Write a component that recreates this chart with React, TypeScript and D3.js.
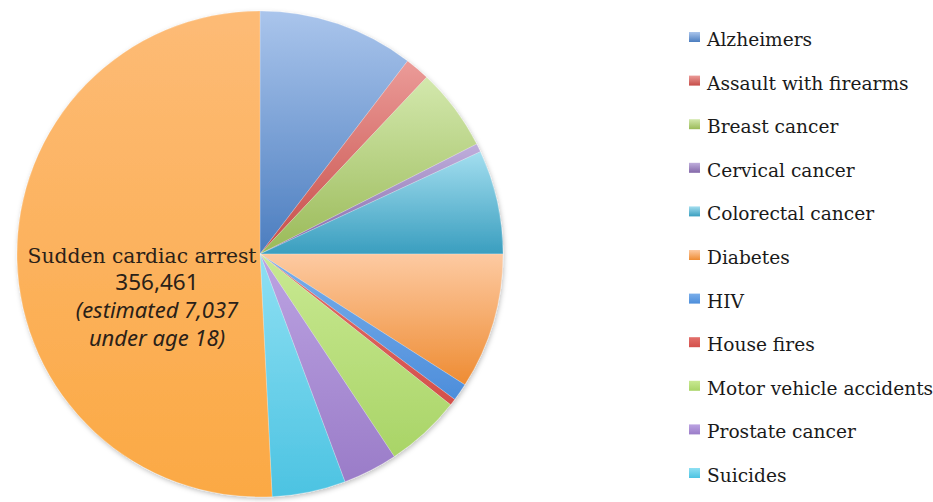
import React, { useEffect, useRef } from 'react';
import * as d3 from 'd3';

// Deaths per year
const categories = [
  'Alzheimers',
  'Assault with firearms',
  'Breast cancer',
  'Cervical cancer',
  'Colorectal cancer',
  'Diabetes',
  'HIV',
  'House fires',
  'Motor vehicle accidents',
  'Prostate cancer',
  'Suicides',
  'Sudden cardiac arrest',
];
const deaths = [72900, 11500, 38600, 3900, 48500, 63500, 8200, 3100, 35300, 25500, 34300, 356461];
const topColors = [
  '#aac5ec', '#eb9b98', '#d3e8ad', '#bfaedc', '#a3deef', '#fdcaa2',
  '#7aaeea', '#e2706b', '#c9e992', '#bca3e2', '#8fe0f3', '#fdbb76',
];
const bottomColors = [
  '#4b7dbf', '#c64d48', '#9aba58', '#8367a8', '#3a9ebf', '#ee8c33',
  '#4d8edb', '#d4504b', '#a9d467', '#9a7cc8', '#4cc3e2', '#fba944',
];
const legendNames = categories.slice(0, 11);
const bigLabel = ['Sudden cardiac arrest', '356,461', '(estimated 7,037', 'under age 18)'];

const width = 933;
const height = 502;

const App: React.FC = () => {
  const svgRef = useRef<SVGSVGElement>(null);

  useEffect(() => {
    if (!svgRef.current) return;
    const svg = d3.select(svgRef.current);
    svg.selectAll('*').remove();

    const cx = 260;
    const cy = 254;
    const radius = 243;

    const defs = svg.append('defs');
    categories.forEach((c, i) => {
      const grad = defs
        .append('linearGradient')
        .attr('id', `grad-${i}`)
        .attr('x1', 0)
        .attr('y1', 0)
        .attr('x2', 0)
        .attr('y2', 1);
      grad.append('stop').attr('offset', '0%').attr('stop-color', topColors[i]);
      grad.append('stop').attr('offset', '100%').attr('stop-color', bottomColors[i]);
    });

    const shadow = defs
      .append('filter')
      .attr('id', 'pie-shadow')
      .attr('x', '-10%')
      .attr('y', '-10%')
      .attr('width', '120%')
      .attr('height', '120%');
    shadow
      .append('feDropShadow')
      .attr('dx', 1)
      .attr('dy', 2)
      .attr('stdDeviation', 2.5)
      .attr('flood-color', '#000')
      .attr('flood-opacity', 0.25);

    const pie = d3
      .pie<number>()
      .sort(null)
      .value((d) => d);
    const arcs = pie(deaths);
    const arc = d3.arc<d3.PieArcDatum<number>>().innerRadius(0).outerRadius(radius);

    const g = svg.append('g').attr('transform', `translate(${cx},${cy})`);
    g.append('g')
      .attr('filter', 'url(#pie-shadow)')
      .selectAll('path')
      .data(arcs)
      .enter()
      .append('path')
      .attr('d', arc)
      .attr('fill', (d, i) => `url(#grad-${i})`)
      .attr('stroke', 'rgba(255,255,255,0.35)')
      .attr('stroke-width', 0.6);

    // Label inside the big slice
    const label = svg.append('g').style('fill', '#2a2118');
    label
      .append('text')
      .attr('x', 142)
      .attr('y', 263)
      .attr('text-anchor', 'middle')
      .style('font-family', "'DejaVu Serif', serif")
      .style('font-size', '20.3px')
      .text(bigLabel[0]);
    label
      .append('text')
      .attr('x', 157)
      .attr('y', 290)
      .attr('text-anchor', 'middle')
      .style('font-family', "'Noto Sans', sans-serif")
      .style('font-size', '22.5px')
      .text(bigLabel[1]);
    [bigLabel[2], bigLabel[3]].forEach((t, i) => {
      label
        .append('text')
        .attr('x', 157)
        .attr('y', 318 + i * 28)
        .attr('text-anchor', 'middle')
        .style('font-family', "'Noto Sans', sans-serif")
        .style('font-size', '22px')
        .style('font-style', 'italic')
        .text(t);
    });

    // Legend
    const legendY = d3
      .scaleLinear()
      .domain([0, legendNames.length - 1])
      .range([46, 482]);
    const legend = svg.append('g').attr('class', 'legend');
    legendNames.forEach((name, i) => {
      const item = legend.append('g').attr('transform', `translate(689,${legendY(i)})`);
      item
        .append('rect')
        .attr('x', 0)
        .attr('y', -14)
        .attr('width', 11)
        .attr('height', 10)
        .attr('fill', `url(#grad-${i})`);
      item
        .append('text')
        .attr('x', 18)
        .attr('y', 0)
        .style('font-family', "'DejaVu Serif', serif")
        .style('font-size', '18.6px')
        .style('fill', '#1a1a1a')
        .text(name);
    });
  }, []);

  return (
    <div style={{ position: 'absolute', left: 0, top: 0 }}>
      <svg ref={svgRef} width={width} height={height} style={{ display: 'block', background: '#fff' }} />
    </div>
  );
};

export default App;
